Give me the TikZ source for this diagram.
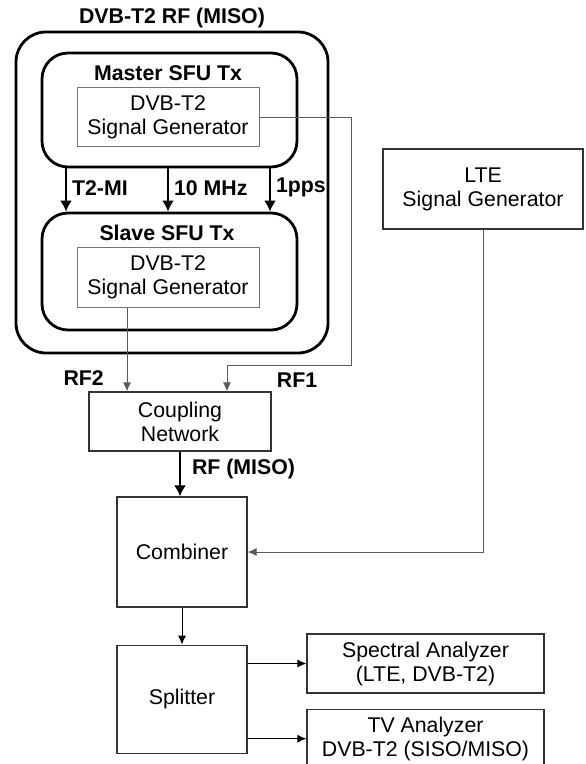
\documentclass[tikz,border=0pt]{standalone}
\usepackage{fontspec}
\setmainfont{Liberation Sans}
\usetikzlibrary{positioning,arrows.meta}
\tikzset{ %one unit = one pixel of the sketch
  >={Latex[length=4.5pt,width=4pt]},
  every node/.style={font=\fontsize{10.65}{12}\selectfont,align=center},
  {group/.style} ={draw,rounded corners=13pt,line width=1.4pt},
  {gen/.style} ={draw=black!55,line width=0.5pt,minimum width=91pt,minimum height=29.5pt,inner sep=0},
  box/.style ={draw=black!80,line width=0.6pt,inner sep=0},
  {tag/.style} ={font=\fontsize{10.65}{12}\selectfont\bfseries},
  {link/.style} ={draw=black!65,line width=0.5pt,->},
  {tlink/.style} ={draw,line width=1.4pt,-{Latex[length=5.5pt,width=6pt]}},
 }
\begin{document}
\begin{tikzpicture}[x=0.5pt,y=-0.5pt]
        \useasboundingbox (0,0) rectangle (585,764);
        % DVB-T2 RF (MISO) group
        \node[group,minimum width=156pt,minimum height=160.5pt,rounded corners=15pt]
                (outer) at (172,192.5) {};
        \node[tag] (title) at (172,18) {DVB-T2 RF (MISO)};
        \node[group,minimum width=127.5pt,minimum height=57pt] (master) at (169.5,110) {};
        \node[tag] (mlabel) at (168,73) {Master SFU Tx};
        \node[gen] (mgen) at (168,117.5) {DVB-T2\\Signal Generator};
        \node[group,minimum width=127.5pt,minimum height=58.5pt] (slave) at (169.5,271.5) {};
        \node[tag] (slabel) at (167,233) {Slave SFU Tx};
        \node[gen] (sgen) at (168,277.5) {DVB-T2\\Signal Generator};
        % chain below
        \node[box,minimum width=91pt,minimum height=29.5pt] (coupling) at (180,421.5)
                {Coupling\\Network};
        \node[box,minimum width=65pt,minimum height=55pt] (combiner) at (182,552) {Combiner};
        \node[box,minimum width=65pt,minimum height=54pt] (splitter) [below=18.5pt of combiner]
                {Splitter};
        \node[box,minimum width=100pt,minimum height=40pt] (lte) at (483,189)
                {LTE\\Signal Generator};
        \node[box,minimum width=118.5pt,minimum height=29.5pt] (spectral) at (425.5,663.5)
                {Spectral Analyzer\\(LTE, DVB-T2)};
        \node[box,minimum width=118.5pt,minimum height=29.5pt] (tv) [below=7.5pt of spectral]
                {TV Analyzer\\DVB-T2 (SISO/MISO)};
        % master -> slave
        \foreach \dx/\txt in {-51.75/T2-MI,-0.75/10 MHz,50.25/1pps}{
          \draw[tlink] ([xshift=\dx pt]master.south) -- ([xshift=\dx pt]slave.north)
                node[tag,pos=0.45,right=-1pt] {\txt};
        }
        % RF paths
        \coordinate (rf1turn) at (351,365);
        \draw[link] ([xshift=-20.5pt]sgen.south) -- ([xshift=-26.5pt]coupling.north)
                node[tag,pos=0.84,left=8pt] {RF2};
        \draw[link] (mgen.east) -| (rf1turn) -| ([xshift=23.5pt]coupling.north);
        \node[tag] (rf1) at (297,380) {RF1};
        \draw[tlink] (coupling.south) -- (coupling.south |- combiner.north)
                node[tag,pos=0.38,right=2pt] {RF (MISO)};
        \draw[link] (lte.south) |- (combiner.east);
        \draw[link,draw=black] (combiner.south) -- (splitter.north);
        \draw[link,draw=black] (splitter.east |- spectral.west) -- (spectral.west);
        \draw[link,draw=black] (splitter.east |- tv.west) -- (tv.west);
\end{tikzpicture}
\end{document}
